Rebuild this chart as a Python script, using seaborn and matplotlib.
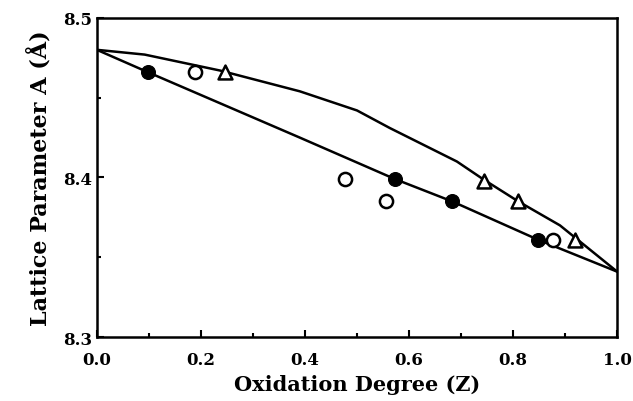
import numpy as np
import matplotlib
matplotlib.use("Agg")
import matplotlib.pyplot as plt
import pandas as pd
import seaborn as sns

# measured points
z_filled = [0.098, 0.573, 0.683, 0.848]
a_filled = [8.466, 8.399, 8.385, 8.361]
z_open = [0.188, 0.477, 0.556, 0.877]
a_open = [8.466, 8.399, 8.385, 8.361]
z_tri = [0.246, 0.744, 0.81, 0.919]
a_tri = [8.466, 8.398, 8.385, 8.361]

# fitted curves
z_upper = [0.0, 0.092, 0.237, 0.39, 0.5, 0.563, 0.692, 0.742, 0.81, 0.89, 1.0]
a_upper = [8.480, 8.477, 8.467, 8.454, 8.442, 8.431, 8.410, 8.399, 8.385, 8.370, 8.341]
z_lower = [0.0, 0.098, 0.39, 0.573, 0.683, 0.848, 1.0]
a_lower = [8.480, 8.466, 8.425, 8.399, 8.385, 8.361, 8.341]

sns.set_style("ticks", {"axes.edgecolor": "black", "xtick.color": "black",
                        "ytick.color": "black", "text.color": "black",
                        "axes.labelcolor": "black"})
plt.rcParams["font.family"] = ["DejaVu Serif"]
plt.rcParams["font.weight"] = "bold"

fig, ax = plt.subplots(figsize=(6.33, 4.02), dpi=100)
fig.subplots_adjust(left=0.153, right=0.975, top=0.953, bottom=0.159)

sns.lineplot(x=z_upper, y=a_upper, sort=False, color="black", lw=1.8, ax=ax)
sns.lineplot(x=z_lower, y=a_lower, sort=False, color="black", lw=1.8, ax=ax)

sns.scatterplot(x=z_filled, y=a_filled, marker="o", s=100, color="black",
                edgecolor="black", ax=ax, zorder=3)
sns.scatterplot(x=z_open, y=a_open, marker="o", s=90, facecolor="white",
                edgecolor="black", linewidth=1.8, ax=ax, zorder=3)
sns.scatterplot(x=z_tri, y=a_tri, marker="^", s=100, facecolor="white",
                edgecolor="black", linewidth=1.8, ax=ax, zorder=3)

ax.set_xlim(0, 1)
ax.set_ylim(8.3, 8.5)
ax.set_xticks([0.0, 0.2, 0.4, 0.6, 0.8, 1.0])
ax.set_xticklabels(["0.0", "0.2", "0.4", "0.6", "0.8", "1.0"])
ax.set_xticks(np.arange(0.1, 1.0, 0.2), minor=True)
ax.set_yticks([8.3, 8.4, 8.5])
ax.set_yticks([8.35, 8.45], minor=True)
ax.tick_params(which="both", direction="in", width=1.5, labelsize=12)
ax.tick_params(which="major", length=5)
ax.tick_params(which="minor", length=3)
ax.tick_params(axis="x", which="major", pad=10)

for s in ax.spines.values():
    s.set_linewidth(1.8)
    s.set_color("black")
    s.set_visible(True)

ax.set_xlabel("Oxidation Degree (Z)", fontsize=15, fontweight="bold", labelpad=4)
ax.set_ylabel("Lattice Parameter A (Å)", fontsize=16, fontweight="bold", labelpad=8)

fig.savefig("out.png", dpi=100)
